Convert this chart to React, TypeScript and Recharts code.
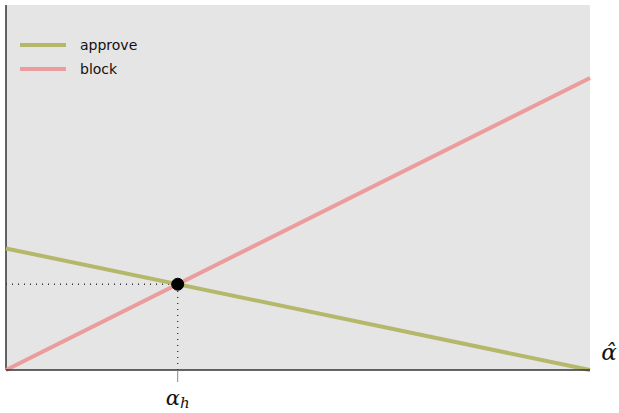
import {
	CartesianGrid,
	Line,
	LineChart,
	ReferenceDot,
	ReferenceLine,
	XAxis,
	YAxis,
} from 'recharts';

// x runs from 0 to 1 along the alpha-hat axis
const xValues = [0, 1];
const approveValues = [0.333, 0];
const blockValues = [0, 0.8];

// where the two lines cross
const alphaH = 0.294;
const crossValue = 0.235;

const seriesNames = ['approve', 'block'];
const seriesColors = ['#b5b86b', '#eb9c9c'];

const data = xValues.map((x, i) => ({
	x,
	approve: approveValues[i],
	block: blockValues[i],
}));

// legend sits over the plot, so it is drawn outside the chart layout
function LegendBox() {
	return (
		<div
			style={{
				position: 'absolute',
				left: 20,
				top: 33,
				fontFamily: 'DejaVu Sans, sans-serif',
				fontSize: 14,
				color: '#111',
			}}
		>
			{seriesNames.map((name, i) => (
				<div key={name} style={{ display: 'flex', alignItems: 'center', height: 24 }}>
					<span
						style={{
							display: 'inline-block',
							width: 46,
							height: 4,
							background: seriesColors[i],
							marginRight: 14,
						}}
					/>
					{name}
				</div>
			))}
		</div>
	);
}

function AlphaTick(props: any) {
	const { x, y } = props;
	return (
		<g>
			<line x1={x} y1={y - 8} x2={x} y2={y + 4} stroke="#888" strokeWidth={1} />
			<text
				x={x}
				y={y + 27}
				textAnchor="middle"
				fontFamily="DejaVu Serif, serif"
				fontStyle="italic"
				fontSize={21}
				fill="#111"
			>
				α
				<tspan fontSize={15} dy={3}>
					h
				</tspan>
			</text>
		</g>
	);
}

function AxisName(props: any) {
	const { viewBox } = props;
	return (
		<text
			x={viewBox.x + viewBox.width + 19}
			y={viewBox.y - 10}
			textAnchor="middle"
			fontFamily="DejaVu Serif, serif"
			fontStyle="italic"
			fontSize={23}
			fill="#111"
		>
			α̂
		</text>
	);
}

export default function App() {
	return (
		<div style={{ position: 'absolute', left: 0, top: 0, width: 619, height: 413 }}>
			<LineChart
				width={619}
				height={413}
				data={data}
				margin={{ top: 5, right: 29, bottom: 13, left: 6 }}
			>
				<CartesianGrid fill="#e5e5e5" horizontal={false} vertical={false} />
				<XAxis
					dataKey="x"
					type="number"
					domain={[0, 1]}
					ticks={[alphaH]}
					tick={<AlphaTick />}
					tickLine={false}
					height={30}
					axisLine={{ stroke: '#333', strokeWidth: 1.5 }}
					label={<AxisName />}
				/>
				<YAxis type="number" domain={[0, 1]} width={0} hide />
				{/* vertical axis line */}
				<ReferenceLine x={0} stroke="#333" strokeWidth={1.5} />
				<ReferenceLine
					segment={[
						{ x: 0, y: crossValue },
						{ x: alphaH, y: crossValue },
					]}
					stroke="#333"
					strokeDasharray="1 5"
					strokeWidth={1.3}
				/>
				<ReferenceLine
					segment={[
						{ x: alphaH, y: 0 },
						{ x: alphaH, y: crossValue },
					]}
					stroke="#333"
					strokeDasharray="1 5"
					strokeWidth={1.3}
				/>
				<Line
					type="linear"
					dataKey="approve"
					stroke={seriesColors[0]}
					strokeWidth={4}
					dot={false}
					isAnimationActive={false}
				/>
				<Line
					type="linear"
					dataKey="block"
					stroke={seriesColors[1]}
					strokeWidth={4}
					dot={false}
					isAnimationActive={false}
				/>
				<ReferenceDot x={alphaH} y={crossValue} r={6} fill="#000" stroke="#000" />
			</LineChart>
			<LegendBox />
		</div>
	);
}
